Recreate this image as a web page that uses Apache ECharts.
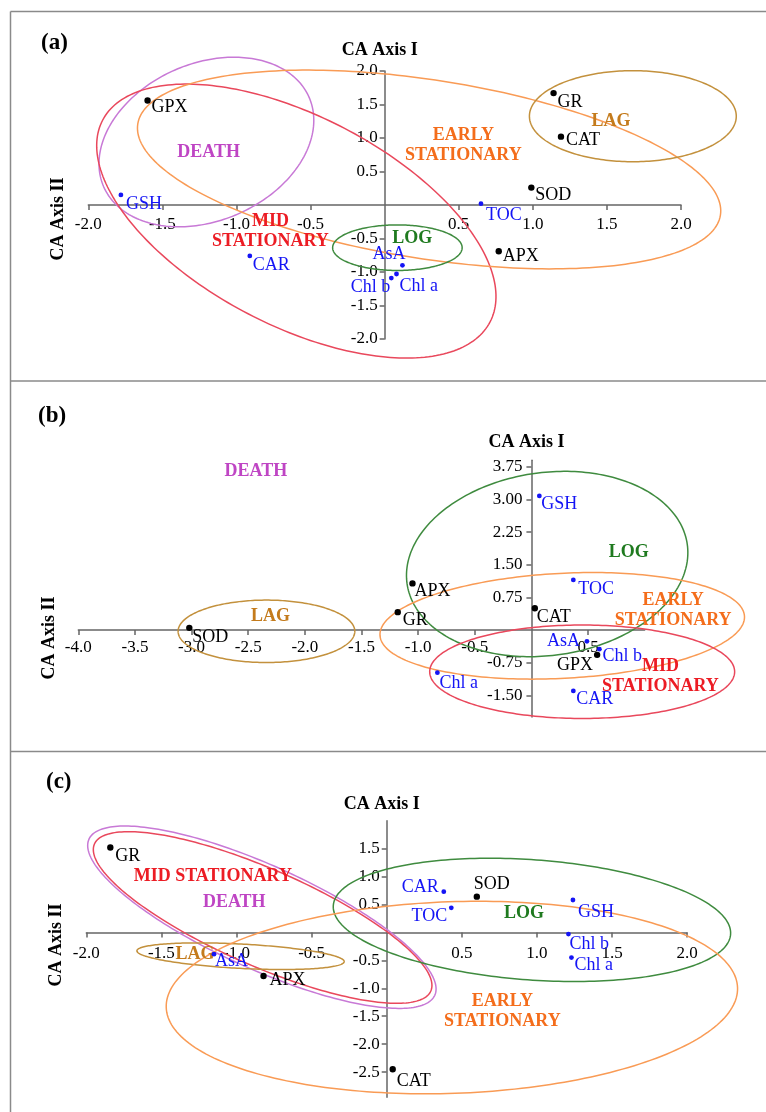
<!DOCTYPE html>
<html><head><meta charset="utf-8">
<script src="https://cdn.jsdelivr.net/npm/echarts@6/dist/echarts.min.js"></script>
<style>html,body{margin:0;padding:0;background:#fff}#chart{width:766px;height:1112px}</style>
</head><body><div id="chart"></div>
<script>
// ---------- DATA ----------
const variables = ['GR', 'CAT', 'SOD', 'APX', 'GPX', 'GSH', 'CAR', 'AsA', 'TOC', 'Chl a', 'Chl b'];
const enzymeVars = ['GR', 'CAT', 'SOD', 'APX', 'GPX'];

// panel (a)
const panelA_x = [1.14, 1.19, 0.99, 0.77, -1.60, -1.78, -0.91, 0.12, 0.65, 0.08, 0.045];
const panelA_y = [1.67, 1.02, 0.26, -0.69, 1.56, 0.15, -0.76, -0.90, 0.02, -1.03, -1.09];
// panel (b)
const panelB_x = [-1.18, 0.03, -3.02, -1.05, 0.58, 0.07, 0.37, 0.49, 0.37, -0.83, 0.60];
const panelB_y = [0.41, 0.50, 0.05, 1.07, -0.57, 3.08, -1.40, -0.26, 1.15, -0.98, -0.44];
// panel (c)  (GPX not shown)
const panelC_x = [-1.84, 0.04, 0.60, -0.82, null, 1.24, 0.38, -1.15, 0.43, 1.23, 1.21];
const panelC_y = [1.52, -2.45, 0.64, -0.78, null, 0.58, 0.73, -0.39, 0.44, -0.45, -0.03];

// tick labels
const ticksA_x = [-2.0, -1.5, -1.0, -0.5, 0.5, 1.0, 1.5, 2.0];
const ticksA_y = [-2.0, -1.5, -1.0, -0.5, 0.5, 1.0, 1.5, 2.0];
const ticksB_x = [-4.0, -3.5, -3.0, -2.5, -2.0, -1.5, -1.0, -0.5, 0.5];
const ticksB_y = [-1.50, -0.75, 0.75, 1.50, 2.25, 3.00, 3.75];
const ticksC_x = [-2.0, -1.5, -1.0, -0.5, 0.5, 1.0, 1.5, 2.0];
const ticksC_y = [-2.5, -2.0, -1.5, -1.0, -0.5, 0.5, 1.0, 1.5];

// growth-stage ellipses: [stage, centre x, centre y, semi-axis x, semi-axis y, tilt deg]
const ellipsesA = [
  ['DEATH', -1.203, 0.94, 0.756, 1.173, -23.5],
  ['MID STATIONARY', -0.596, -0.24, 1.474, 1.56, 27.5],
  ['EARLY STATIONARY', 0.30, 0.53, 1.99, 1.334, 8.9],
  ['LAG', 1.675, 1.325, 0.698, 0.679, 0],
  ['LOG', 0.086, -0.637, 0.437, 0.34, 0]
];
const ellipsesB = [
  ['LAG', -2.339, -0.03, 0.78, 0.717, 0],
  ['LOG', 0.139, 1.516, 1.249, 2.10, -8],
  ['EARLY STATIONARY', 0.272, 0.096, 1.611, 1.206, -3],
  ['MID STATIONARY', 0.448, -0.958, 1.346, 1.073, 0]
];
const ellipsesC = [
  ['DEATH', -0.831, 0.272, 1.263, 0.926, 24.3],
  ['MID STATIONARY', -0.826, 0.267, 1.222, 0.867, 23.6],
  ['LAG', -0.973, -0.426, 0.691, 0.218, 3],
  ['LOG', 0.967, 0.224, 1.326, 1.076, 4.15],
  ['EARLY STATIONARY', 0.434, -1.166, 1.903, 1.715, -2]
];

// stage names: [stage, x, y, text]
const stageLabelsA = [
  ['DEATH', -1.188, 0.79, 'DEATH'],
  ['MID STATIONARY', -0.771, -0.40, 'MID\nSTATIONARY'],
  ['LOG', 0.187, -0.50, 'LOG'],
  ['EARLY STATIONARY', 0.531, 0.895, 'EARLY\nSTATIONARY'],
  ['LAG', 1.528, 1.25, 'LAG']
];
const stageLabelsB = [
  ['DEATH', -2.433, 3.636, 'DEATH'],
  ['LAG', -2.304, 0.305, 'LAG'],
  ['LOG', 0.859, 1.775, 'LOG'],
  ['EARLY STATIONARY', 1.251, 0.459, 'EARLY\nSTATIONARY'],
  ['MID STATIONARY', 1.139, -1.073, 'MID\nSTATIONARY']
];
const stageLabelsC = [
  ['MID STATIONARY', -1.158, 1.01, 'MID STATIONARY'],
  ['DEATH', -1.015, 0.539, 'DEATH'],
  ['LAG', -1.276, -0.392, 'LAG'],
  ['LOG', 0.914, 0.342, 'LOG'],
  ['EARLY STATIONARY', 0.77, -1.413, 'EARLY\nSTATIONARY']
];

// ---------- STYLE / LAYOUT ----------
const FONT = '"Liberation Serif", "Times New Roman", serif';
const stageTextColor = {
  'LAG': '#c47b1c', 'LOG': '#1f7a1f', 'EARLY STATIONARY': '#f46d1b',
  'MID STATIONARY': '#ec1c24', 'DEATH': '#bf45c4'
};
const stageLineColor = {
  'LAG': '#c3913d', 'LOG': '#3f8b3f', 'EARLY STATIONARY': '#f99b55',
  'MID STATIONARY': '#e9485c', 'DEATH': '#c879d6'
};
// label placement per panel: [align, dx, dy]
const defPlace = ['left', 4, 8];
const placeA = {
  GPX: ['left', 4, 7], GSH: ['left', 5, 9], CAR: ['left', 3, 9], TOC: ['left', 5, 12],
  SOD: ['left', 4, 8], APX: ['left', 4, 5], GR: ['left', 4, 9], CAT: ['left', 5, 4],
  'Chl a': ['left', 3, 12], 'Chl b': ['right', -1, 9], AsA: ['right', 3, -11]
};
const placeB = {
  SOD: ['left', 3, 9], GR: ['left', 5, 8], APX: ['left', 2, 8], CAT: ['left', 2, 9],
  GSH: ['left', 2, 8], TOC: ['left', 5, 9], AsA: ['right', -7, 0], 'Chl b': ['left', 3, 7],
  GPX: ['right', -4, 10], 'Chl a': ['left', 2, 11], CAR: ['left', 3, 8]
};
const placeC = {
  GR: ['left', 5, 9], AsA: ['left', 1, 7], APX: ['left', 6, 4], CAT: ['left', 4, 12],
  CAR: ['right', -5, -4], TOC: ['right', -4, 8], SOD: ['left', -3, -12], GSH: ['left', 5, 12],
  'Chl b': ['left', 1, 10], 'Chl a': ['left', 3, 8]
};

const grids = [
  { left: 88.3, top: 71, width: 592.7, height: 268 },
  { left: 78.3, top: 460.2, width: 566.4, height: 256.9 },
  { left: 86.3, top: 820.7, width: 600.8, height: 276.5 }
];
const ranges = [
  { x: [-2, 2], y: [-2, 2], tx: ticksA_x, ty: ticksA_y, dx: 1, dy: 1, mx: 11, my: 7, gap: 12 },
  { x: [-4, 1], y: [-2, 3.9], tx: ticksB_x, ty: ticksB_y, dx: 1, dy: 2, mx: 9, my: 9, gap: 9 },
  { x: [-2, 2], y: [-2.95, 2], tx: ticksC_x, ty: ticksC_y, dx: 1, dy: 1, mx: 13, my: 7, gap: 7 }
];

const axisLineStyle = { color: '#666', width: 1.5 };

// axes cross at the origin: shift each axis inward from the grid edge to the zero line
const xAxes = ranges.map((r, i) => ({
  type: 'value', gridIndex: i, min: r.x[0], max: r.x[1], position: 'bottom',
  offset: -((0 - r.y[0]) / (r.y[1] - r.y[0])) * grids[i].height,
  axisLine: { show: true, onZero: false, lineStyle: axisLineStyle },
  axisTick: { show: true, length: 5, customValues: r.tx, lineStyle: axisLineStyle },
  axisLabel: {
    customValues: r.tx, margin: r.mx, color: '#000', fontFamily: FONT, fontSize: 17,
    formatter: v => Number(v).toFixed(r.dx), hideOverlap: false
  },
  splitLine: { show: false }
}));
const yAxes = ranges.map((r, i) => ({
  type: 'value', gridIndex: i, min: r.y[0], max: r.y[1], position: 'left',
  offset: -((0 - r.x[0]) / (r.x[1] - r.x[0])) * grids[i].width,
  name: 'CA Axis I', nameLocation: 'end', nameGap: r.gap,
  nameTextStyle: { fontFamily: FONT, fontWeight: 'bold', fontSize: 18, color: '#000', padding: [0, 10, 0, 0] },
  axisLine: { show: true, onZero: false, lineStyle: axisLineStyle },
  axisTick: { show: true, length: 5, customValues: r.ty, lineStyle: axisLineStyle },
  axisLabel: {
    customValues: r.ty, margin: r.my, color: '#000', fontFamily: FONT, fontSize: 17,
    formatter: v => Number(v).toFixed(r.dy), hideOverlap: false
  },
  splitLine: { show: false }
}));

function ellipseSeries(gi, rows) {
  return {
    type: 'custom', xAxisIndex: gi, yAxisIndex: gi, silent: true, z: 2,
    data: rows.map(r => [r[1], r[2], r[3], r[4], r[5]]),
    renderItem: (params, api) => {
      const r = rows[params.dataIndex];
      const c = api.coord([r[1], r[2]]);
      const a = api.size([r[3], 0])[0];
      const b = api.size([0, r[4]])[1];
      const th = r[5] * Math.PI / 180;
      const pts = [];
      for (let k = 0; k < 240; k++) {
        const t = k / 240 * Math.PI * 2;
        pts.push([
          c[0] + a * Math.cos(t) * Math.cos(th) - b * Math.sin(t) * Math.sin(th),
          c[1] + a * Math.cos(t) * Math.sin(th) + b * Math.sin(t) * Math.cos(th)
        ]);
      }
      return { type: 'polygon', shape: { points: pts },
        style: { fill: 'none', stroke: stageLineColor[r[0]], lineWidth: 1.5 } };
    }
  };
}

function stageSeries(gi, rows) {
  return {
    type: 'custom', xAxisIndex: gi, yAxisIndex: gi, silent: true, z: 4,
    data: rows.map(r => [r[1], r[2]]),
    renderItem: (params, api) => {
      const r = rows[params.dataIndex];
      const c = api.coord([r[1], r[2]]);
      return { type: 'text', x: c[0], y: c[1],
        style: { text: r[3], fill: stageTextColor[r[0]], font: 'bold 18px ' + FONT,
          align: 'center', verticalAlign: 'middle', lineHeight: 20 } };
    }
  };
}

function pointSeries(gi, xs, ys, place) {
  const idx = [];
  variables.forEach((v, k) => { if (xs[k] !== null && ys[k] !== null) idx.push(k); });
  return {
    type: 'custom', xAxisIndex: gi, yAxisIndex: gi, silent: true, z: 5,
    data: idx.map(k => [xs[k], ys[k]]),
    renderItem: (params, api) => {
      const k = idx[params.dataIndex];
      const name = variables[k];
      const isEnz = enzymeVars.indexOf(name) >= 0;
      const col = isEnz ? '#000' : '#1414f5';
      const c = api.coord([xs[k], ys[k]]);
      const p = place[name] || defPlace;
      return { type: 'group', children: [
        { type: 'circle', shape: { cx: c[0], cy: c[1], r: isEnz ? 3.2 : 2.4 }, style: { fill: col } },
        { type: 'text', x: c[0] + p[1], y: c[1] + p[2],
          style: { text: name, fill: col, font: '18px ' + FONT, align: p[0], verticalAlign: 'middle' } }
      ] };
    }
  };
}

const frame = { stroke: '#8a8a8a', lineWidth: 1.5 };
const graphic = [
  { type: 'line', shape: { x1: 10.5, y1: 11.5, x2: 766, y2: 11.5 }, style: frame },
  { type: 'line', shape: { x1: 10.5, y1: 381, x2: 766, y2: 381 }, style: frame },
  { type: 'line', shape: { x1: 10.5, y1: 751.5, x2: 766, y2: 751.5 }, style: frame },
  { type: 'line', shape: { x1: 10.5, y1: 11.5, x2: 10.5, y2: 1112 }, style: frame }
];
const panelLetters = ['(a)', '(b)', '(c)'];
const letterPos = [[41, 43], [38, 416], [46, 782]];
panelLetters.forEach((t, i) => graphic.push({ type: 'text', x: letterPos[i][0], y: letterPos[i][1],
  style: { text: t, font: 'bold 23px ' + FONT, fill: '#000', align: 'left', verticalAlign: 'middle' } }));
const axis2Pos = [[58, 219], [49, 638], [56, 945]];
axis2Pos.forEach(p => graphic.push({ type: 'text', x: p[0], y: p[1], rotation: Math.PI / 2,
  style: { text: 'CA Axis II', font: 'bold 18px ' + FONT, fill: '#000', align: 'center', verticalAlign: 'middle' } }));

const chart = echarts.init(document.getElementById('chart'), null, { renderer: 'canvas' });
chart.setOption({
  animation: false,
  backgroundColor: '#fff',
  grid: grids,
  xAxis: xAxes,
  yAxis: yAxes,
  graphic: graphic,
  series: [
    ellipseSeries(0, ellipsesA), ellipseSeries(1, ellipsesB), ellipseSeries(2, ellipsesC),
    stageSeries(0, stageLabelsA), stageSeries(1, stageLabelsB), stageSeries(2, stageLabelsC),
    pointSeries(0, panelA_x, panelA_y, placeA),
    pointSeries(1, panelB_x, panelB_y, placeB),
    pointSeries(2, panelC_x, panelC_y, placeC)
  ]
});
</script></body></html>
